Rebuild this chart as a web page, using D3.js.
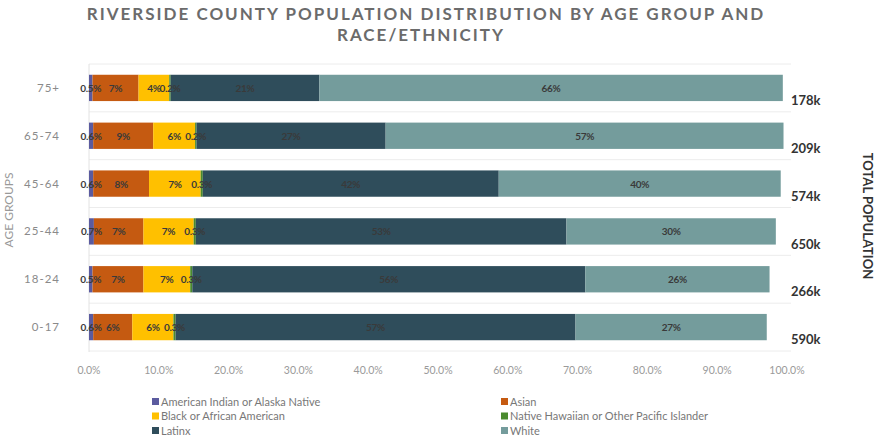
<!DOCTYPE html>
<html>
<head>
<meta charset="utf-8">
<script src="https://cdn.jsdelivr.net/npm/d3@7"></script>
<style>
  body { margin: 0; background: #fff; }
  text { font-family: "Lato", "Open Sans", sans-serif; }
</style>
</head>
<body>
<div id="chart"></div>
<script>
var svgWidth = 888;
var svgHeight = 442;

// age groups, top to bottom
var ageGroups = ["75+", "65-74", "45-64", "25-44", "18-24", "0-17"];
var groupTotals = ["178k", "209k", "574k", "650k", "266k", "590k"];

var races = ["American Indian or Alaska Native", "Asian", "Black or African American",
  "Native Hawaiian or Other Pacific Islander", "Latinx", "White"];

// percent of each age group, same order as ageGroups
var aianPct   = [0.5, 0.6, 0.6, 0.7, 0.5, 0.6];
var asianPct  = [6.6, 8.6, 8.0, 7.1, 7.3, 5.6];
var blackPct  = [4.4, 6.0, 7.4, 7.2, 6.7, 5.9];
var nhpiPct   = [0.2, 0.2, 0.3, 0.3, 0.3, 0.3];
var latinxPct = [21.3, 27.1, 42.4, 53.1, 56.3, 57.3];
var whitePct  = [66.4, 57.0, 40.4, 30.0, 26.4, 27.4];

var xTicks = [0, 10, 20, 30, 40, 50, 60, 70, 80, 90, 100];

var colors = ["#5b5b9f", "#c55a11", "#ffc000", "#4a8a2e", "#2f4d5b", "#749c9c"];

var seriesVals = [aianPct, asianPct, blackPct, nhpiPct, latinxPct, whitePct];

var rows = ageGroups.map(function(g, i) {
  var r = { group: g, total: groupTotals[i] };
  races.forEach(function(race, j) { r[race] = seriesVals[j][i]; });
  return r;
});

var stacked = d3.stack().keys(races)(rows);

var svg = d3.select("#chart")
  .append("svg")
  .attr("width", svgWidth)
  .attr("height", svgHeight);

var xScale = d3.scaleLinear().domain([0, 100]).range([89, 787]);
var yScale = d3.scaleBand().domain(ageGroups).range([64, 351])
  .paddingInner(0.45).paddingOuter(0.225);

// title
svg.append("text")
  .attr("x", 426).attr("y", 20)
  .attr("text-anchor", "middle")
  .attr("font-size", 17).attr("font-weight", "bold")
  .attr("letter-spacing", 2)
  .attr("fill", "#6b6b6b")
  .text("RIVERSIDE COUNTY POPULATION DISTRIBUTION BY AGE GROUP AND");
svg.append("text")
  .attr("x", 421).attr("y", 41)
  .attr("text-anchor", "middle")
  .attr("font-size", 17).attr("font-weight", "bold")
  .attr("letter-spacing", 2)
  .attr("fill", "#6b6b6b")
  .text("RACE/ETHNICITY");

// faint row separators
var step = yScale.step();
var seps = ageGroups.map(function(g) { return yScale(g) - (step - yScale.bandwidth()) / 2; });
seps.push(351);
svg.append("g").selectAll("line").data(seps).enter()
  .append("line")
  .attr("x1", 89).attr("x2", 791)
  .attr("y1", d => d).attr("y2", d => d)
  .attr("stroke", "#ececec");

svg.append("line")
  .attr("x1", 89).attr("x2", 89)
  .attr("y1", 64).attr("y2", 352)
  .attr("stroke", "#e2e2e2");

// bars
var layers = svg.append("g").selectAll("g").data(stacked).enter()
  .append("g")
  .attr("fill", (d, i) => colors[i]);

layers.selectAll("rect").data(d => d).enter()
  .append("rect")
  .attr("x", d => xScale(d[0]))
  .attr("y", d => yScale(d.data.group))
  .attr("width", d => xScale(d[1]) - xScale(d[0]))
  .attr("height", yScale.bandwidth());

// segment labels, drawn on top of all bars
function fmt(v) { return v < 1 ? v.toFixed(1) + "%" : Math.round(v) + "%"; }

var segs = [];
stacked.forEach(function(layer) {
  layer.forEach(function(p) {
    segs.push({ a: p[0], b: p[1], g: p.data.group });
  });
});

svg.append("g").selectAll("text").data(segs).enter()
  .append("text")
  .attr("x", d => xScale((d.a + d.b) / 2))
  .attr("y", d => yScale(d.g) + yScale.bandwidth() / 2 + 4)
  .attr("text-anchor", "middle")
  .attr("font-size", 10)
  .attr("font-weight", "bold")
  .attr("letter-spacing", -0.3)
  .attr("fill", "#3a3a3a")
  .text(d => fmt(d.b - d.a));

// category labels
svg.append("g").selectAll("text").data(ageGroups).enter()
  .append("text")
  .attr("x", 60)
  .attr("y", d => yScale(d) + yScale.bandwidth() / 2 + 4)
  .attr("text-anchor", "end")
  .attr("font-size", 11.5)
  .attr("letter-spacing", 1)
  .attr("fill", "#8a8a8a")
  .text(d => d);

// totals
svg.append("g").selectAll("text").data(rows).enter()
  .append("text")
  .attr("x", 791)
  .attr("y", d => yScale(d.group) + yScale.bandwidth() + 4)
  .attr("font-size", 13)
  .attr("font-weight", "bold")
  .attr("fill", "#333")
  .text(d => d.total);

// x axis labels
svg.append("g").selectAll("text").data(xTicks).enter()
  .append("text")
  .attr("x", d => xScale(d))
  .attr("y", 374)
  .attr("text-anchor", "middle")
  .attr("font-size", 10.5)
  .attr("fill", "#9a9a9a")
  .text(d => d.toFixed(1) + "%");

// axis titles
svg.append("text")
  .attr("transform", "translate(13, 210) rotate(-90)")
  .attr("text-anchor", "middle")
  .attr("font-size", 12)
  .attr("fill", "#999")
  .text("AGE GROUPS");

svg.append("text")
  .attr("transform", "translate(863, 216) rotate(90)")
  .attr("text-anchor", "middle")
  .attr("font-size", 13)
  .attr("font-weight", "bold")
  .attr("fill", "#333")
  .text("TOTAL POPULATION");

// legend
var legend = svg.append("g").selectAll("g").data(races).enter()
  .append("g")
  .attr("transform", (d, i) => `translate(${i % 2 === 0 ? 152 : 501}, ${402 + Math.floor(i / 2) * 14.5})`);

legend.append("rect")
  .attr("x", 0).attr("y", -4)
  .attr("width", 7).attr("height", 7)
  .attr("fill", (d, i) => colors[i]);

legend.append("text")
  .attr("x", 9).attr("y", 3.5)
  .attr("font-family", "'Liberation Sans Narrow', 'Roboto', sans-serif")
  .attr("font-size", 11)
  .attr("fill", "#777")
  .text(d => d);
</script>
</body>
</html>
